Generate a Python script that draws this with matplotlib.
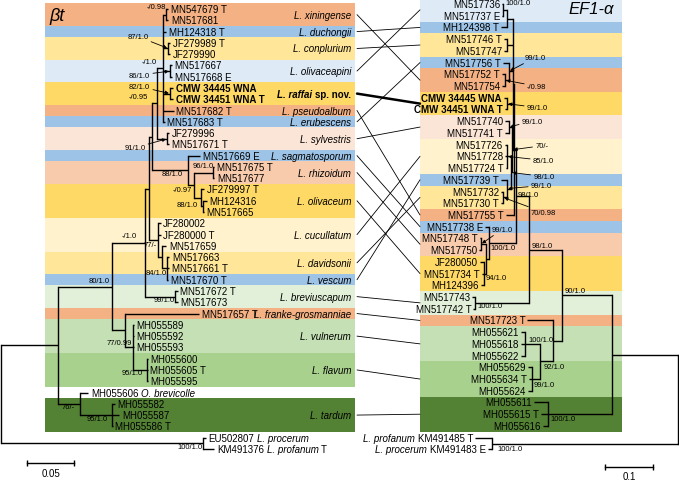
import matplotlib.pyplot as plt
from matplotlib.patches import ConnectionPatch
from matplotlib.transforms import blended_transform_factory, offset_copy

plt.rcParams['font.family'] = ['Liberation Sans', 'DejaVu Sans']

# ---------------- beta-tubulin tree (left), tips from top to bottom ----------------
# *...* marks italic parts of a label
bt_tips = ["MN547679 T", "MN517681", "MH124318 T", "JF279989 T", "JF279990",
           "MN517667", "MN517668 E", "CMW 34445 WNA", "CMW 34451 WNA T", "MN517682 T",
           "MN517683 T", "JF279996", "MN517671 T", "MN517669 E", "MN517675 T",
           "MN517677", "JF279997 T", "MH124316", "MN517665", "JF280002",
           "JF280000 T", "MN517659", "MN517663", "MN517661 T", "MN517670 T",
           "MN517672 T", "MN517673", "MN517657 T", "MH055589", "MH055592",
           "MH055593", "MH055600", "MH055605 T", "MH055595", "MH055606 *O. brevicolle*",
           "MH055582", "MH055587", "MH055586 T", "EU502807 *L. procerum*",
           "KM491376 *L. profanum* T"]
bt_tip_parent = ["xin", "xin", "clA", "conp", "conp", "olp", "olp", "raf", "raf", "clA",
                 "clA", "syl", "syl", "clR", "rhi", "rhi", "oli", "oli2", "oli2", "cd",
                 "cd", "cd2", "dav", "dav", "dav", "bre", "bre", "v", "vf", "vf",
                 "vf", "fla", "fla", "fla", "t", "tar", "tar", "tar", "og", "og"]
bt_tip_dist = [0.178, 0.178, 0.176, 0.180, 0.180, 0.182, 0.182, 0.183, 0.183, 0.184,
               0.174, 0.179, 0.179, 0.212, 0.227, 0.227, 0.216, 0.219, 0.216, 0.170,
               0.170, 0.176, 0.179, 0.179, 0.178, 0.188, 0.188, 0.211, 0.141, 0.141,
               0.141, 0.156, 0.156, 0.156, 0.093, 0.121, 0.126, 0.119, 0.218, 0.227]
# internal nodes: (name, parent, distance from root)
bt_nodes = [("root", None, 0.0), ("n1", "root", 0.061), ("n2", "n1", 0.118),
            ("n3", "n2", 0.153), ("n4", "n3", 0.157), ("n5", "n4", 0.161),
            ("n6", "n5", 0.166), ("clA", "n6", 0.172), ("xin", "clA", 0.176),
            ("conp", "clA", 0.178), ("olp", "clA", 0.180), ("raf", "clA", 0.180),
            ("syl", "n6", 0.177), ("clR", "n5", 0.199), ("ro", "clR", 0.205),
            ("rhi", "ro", 0.226), ("oli", "ro", 0.213), ("oli2", "oli", 0.215),
            ("cd", "n4", 0.167), ("cd2", "cd", 0.171), ("dav", "cd2", 0.177),
            ("bre", "n3", 0.185), ("v", "n2", 0.132), ("vf", "v", 0.140),
            ("fla", "vf", 0.155), ("t", "n1", 0.084), ("tar", "t", 0.118),
            ("og", "root", 0.215)]
bt_support = {"xin": "-/0.98", "conp": "87/1.0", "clA": "-/1.0", "olp": "86/1.0",
              "raf": "82/1.0", "n6": "-/0.95", "syl": "91/1.0", "rhi": "96/1.0",
              "clR": "88/1.0", "oli": "-/0.97", "oli2": "88/1.0", "n3": "-/1.0",
              "cd": "77/-", "dav": "84/1.0", "n2": "80/1.0", "bre": "99/1.0",
              "vf": "77/0.99", "fla": "95/1.0", "t": "76/-", "tar": "95/1.0",
              "og": "100/1.0"}
bt_species = ["L. xiningense", "L. duchongii", "L. conplurium", "L. olivaceapini",
              "L. raffai", "L. pseudoalbum", "L. erubescens", "L. sylvestris",
              "L. sagmatosporum", "L. rhizoidum", "L. olivaceum", "L. cucullatum",
              "L. davidsonii", "L. vescum", "L. breviuscapum", "L. franke-grosmanniae",
              "L. vulnerum", "L. flavum", "L. tardum"]
bt_first = [0, 2, 3, 5, 7, 9, 10, 11, 13, 14, 16, 19, 22, 24, 25, 27, 28, 31, 35]
bt_last = [1, 2, 4, 6, 8, 9, 10, 12, 13, 15, 18, 21, 23, 24, 26, 27, 30, 33, 37]
new_species = "L. raffai"

# ---------------- EF1-alpha tree (right) ----------------
ef_tips = ["MN517736", "MN517737 E", "MH124398 T", "MN517746 T", "MN517747",
           "MN517756 T", "MN517752 T", "MN517754", "CMW 34445 WNA", "CMW 34451 WNA T",
           "MN517740", "MN517741 T", "MN517726", "MN517728", "MN517724 T",
           "MN517739 T", "MN517732", "MN517730 T", "MN517755 T", "MN517738 E",
           "MN517748 T", "MN517750", "JF280050", "MN517734 T", "MH124396",
           "MN517743", "MN517742 T", "MN517723 T", "MH055621", "MH055618",
           "MH055622", "MH055629", "MH055634 T", "MH055624", "MH055611",
           "MH055615 T", "MH055616", "*L. profanum* KM491485 T", "*L. procerum* KM491483 E"]
ef_tip_parent = ["x1", "x1", "x2", "rconp", "rconp", "n99", "rxin", "rxin", "rraf", "rraf",
                 "rsyl", "rsyl", "c1", "c1", "c1", "d2", "d1", "d1", "b1", "rro",
                 "rrhi", "rrhi", "rol", "rol", "rol", "rbre", "rbre", "rf", "rvul", "rvul",
                 "rvul", "rfla", "rfla", "rfla", "rtar", "rtar", "rtar", "rog", "rog"]
ef_tip_dist = [0.365, 0.365, 0.367, 0.361, 0.361, 0.363, 0.365, 0.365, 0.361, 0.359,
               0.359, 0.359, 0.359, 0.359, 0.357, 0.367, 0.367, 0.367, 0.357, 0.400,
               0.411, 0.413, 0.411, 0.407, 0.409, 0.427, 0.425, 0.313, 0.326, 0.326,
               0.326, 0.311, 0.309, 0.311, 0.299, 0.284, 0.280, 0.421, 0.394]
ef_nodes = [("rroot", None, 0.0), ("r612", "rroot", 0.137), ("rog", "rroot", 0.386),
            ("r562", "r612", 0.241), ("rtar", "r612", 0.270), ("r529", "r562", 0.309),
            ("rf", "r562", 0.259), ("rvf", "rf", 0.286), ("rvul", "rvf", 0.317),
            ("rfla", "rvf", 0.303), ("rbre", "r529", 0.421), ("b0", "r529", 0.336),
            ("b1", "b0", 0.340), ("rro", "b0", 0.392), ("b2", "b1", 0.342),
            ("b2a", "b2", 0.344), ("rsyl", "b2a", 0.351), ("b3", "b2a", 0.346),
            ("c1", "b3", 0.355), ("d2", "b3", 0.355), ("d1", "d2", 0.363),
            ("rraf", "b2", 0.355), ("n99", "b2", 0.351), ("rxin", "n99", 0.359),
            ("rconp", "b2", 0.355), ("x2", "b2", 0.355), ("x1", "x2", 0.363),
            ("rro2", "rro", 0.398), ("rrhi", "rro2", 0.409), ("rol", "rro2", 0.402)]
ef_support = {"x1": "100/1.0", "n99": "99/1.0", "rxin": "-/0.98", "rraf": "99/1.0",
              "rsyl": "99/1.0", "b2a": "70/-", "c1": "85/1.0", "b3": "98/1.0",
              "d2": "99/1.0", "d1": "70/0.98", "b0": "98/1.0", "rrhi": "99/1.0",
              "rro": "100/1.0", "rol": "94/1.0", "r529": "98/1.0", "rbre": "100/1.0",
              "r562": "90/1.0", "rvul": "100/1.0", "rvf": "92/1.0", "rfla": "99/1.0",
              "rtar": "100/1.0", "rog": "100/1.0"}
ef_species = ["L. olivaceapini", "L. duchongii", "L. conplurium", "L. erubescens",
              "L. xiningense", "L. raffai", "L. sylvestris", "L. cucullatum", "L. vescum",
              "L. davidsonii", "L. pseudoalbum", "L. sagmatosporum", "L. rhizoidum",
              "L. olivaceum", "L. breviuscapum", "L. franke-grosmanniae", "L. vulnerum",
              "L. flavum", "L. tardum"]
ef_first = [0, 2, 3, 5, 6, 8, 10, 12, 15, 16, 18, 19, 20, 22, 25, 27, 28, 31, 34]
ef_last = [1, 2, 4, 5, 7, 9, 11, 14, 15, 17, 18, 19, 21, 24, 26, 27, 30, 33, 36]

# ---------------- styles / layout ----------------
species_color = {
    "L. xiningense": "#F4B183", "L. duchongii": "#9DC3E6", "L. conplurium": "#FFE699",
    "L. olivaceapini": "#DEEBF7", "L. raffai": "#FFD966", "L. pseudoalbum": "#F4B183",
    "L. erubescens": "#9DC3E6", "L. sylvestris": "#FBE5D6", "L. sagmatosporum": "#9DC3E6",
    "L. rhizoidum": "#F8CBAD", "L. olivaceum": "#FFD966", "L. cucullatum": "#FFF2CC",
    "L. davidsonii": "#FFE699", "L. vescum": "#9DC3E6", "L. breviuscapum": "#E2F0D9",
    "L. franke-grosmanniae": "#F4B183", "L. vulnerum": "#C5E0B4", "L. flavum": "#A9D18E",
    "L. tardum": "#548235"}

# offsets (pixels) of support labels from their node: dx, dy (down), arrow
bt_label_pos = {"xin": (0, -8, False), "conp": (-20, -12, True), "clA": (-6, -7, False),
                "olp": (-20, 4, True), "raf": (-20, -7, True), "n6": (-9, -7, False),
                "syl": (-22, 9, True), "rhi": (0, -7, False), "clR": (-5, 3, False),
                "oli": (-9, -8, False), "oli2": (-5, -2, False), "n3": (-8, -7, False),
                "cd": (-1, 4, False), "dav": (-1, 4, False), "n2": (-2, -6, False),
                "bre": (0, 3, False), "vf": (-1, -5, False), "fla": (-4, 3, False),
                "t": (-5, 3, False), "tar": (-4, 3, False), "og": (-1, 3, False)}
ef_label_pos = {"x1": (2, -7, False), "n99": (16, -14, True), "rxin": (22, 6, True),
                "rraf": (20, 4, True), "rsyl": (13, -6, True), "b2a": (23, -4, True),
                "c1": (26, 4, True), "b3": (22, 4, True), "d2": (24, -3, True),
                "d1": (28, 15, True), "b0": (2, -2, False), "rrhi": (11, -15, True),
                "rro": (1, 5, False), "rol": (1, 4, False), "r529": (3, -4, False),
                "rbre": (2, 3, False), "r562": (3, -5, False), "rvul": (3, -4, False),
                "rvf": (3, 5, False), "rfla": (2, 5, False), "rtar": (3, 4, False),
                "rog": (6, 5, False)}

W, H = 679, 481
TIP_FS = 7
SUP_FS = 5.5
LW = 1.0


def layout(tip_parent, nodes):
    kids = {name: [] for name, p, d in nodes}
    for name, p, d in nodes:
        if p is not None:
            kids[p].append(name)
    for i, p in enumerate(tip_parent):
        kids[p].append(i)
    ypos = {}

    def y_of(k):
        if isinstance(k, int):
            return k
        if k not in ypos:
            ys = [y_of(c) for c in kids[k]]
            ypos[k] = (min(ys) + max(ys)) / 2
        return ypos[k]

    for name, p, d in nodes:
        y_of(name)
    return kids, ypos


def draw_tree(ax, tip_parent, tip_dist, nodes):
    kids, ypos = layout(tip_parent, nodes)
    dist = {name: d for name, p, d in nodes}
    for name, p, d in nodes:
        cy = [c if isinstance(c, int) else ypos[c] for c in kids[name]]
        ax.plot([d, d], [min(cy), max(cy)], color='k', lw=LW, solid_capstyle='projecting')
        for c in kids[name]:
            if isinstance(c, int):
                ax.plot([d, tip_dist[c]], [c, c], color='k', lw=LW, solid_capstyle='butt')
            else:
                ax.plot([d, dist[c]], [ypos[c], ypos[c]], color='k', lw=LW,
                        solid_capstyle='butt')
    return dist, ypos


def rich_text(ax, x, y, label, ha, transform, **kw):
    segs = [(s.strip(), i % 2 == 1) for i, s in enumerate(label.split('*')) if s.strip()]
    if ha == 'right':
        segs = segs[::-1]
    prev = None
    for s, it in segs:
        style = 'italic' if it else 'normal'
        if prev is None:
            prev = ax.text(x, y, s, ha=ha, va='center', transform=transform,
                           style=style, **kw)
        else:
            gap = 2.7 if ha == 'left' else -2.7
            prev = ax.annotate(s, xy=(1 if ha == 'left' else 0, 0), xycoords=prev,
                               xytext=(gap, 0), textcoords='offset pixels',
                               ha=ha, va='bottom', style=style, **kw)
    return prev


def support_labels(ax, support, pos, dist, ypos, ha):
    for node, txt in support.items():
        dx, dy, arrow = pos[node]
        props = None
        if arrow:
            props = dict(arrowstyle='-|>', lw=0.6, color='k', shrinkA=0, shrinkB=1,
                         mutation_scale=5)
        ax.annotate(txt, xy=(dist[node], ypos[node]), xytext=(dx, -dy),
                    textcoords='offset pixels', ha=ha, va='center',
                    fontsize=SUP_FS, arrowprops=props)


fig = plt.figure(figsize=(W / 100, H / 100), dpi=100)

# left axes: x = substitutions from root (root at px 1, 940 px per unit); y = tip row
ax_l = fig.add_axes([0, 0, 1, 1])
ax_l.set_xlim(-1 / 940, (W - 1) / 940)
ax_l.set_ylim((H - 10) / 11.28, -10 / 11.28)
ax_l.axis('off')

# right axes: root at px 678, growing leftwards (482 px per unit)
ax_r = fig.add_axes([0, 0, 1, 1])
ax_r.set_xlim(678 / 482, (678 - W) / 482)
ax_r.set_ylim((H - 5) / 11.72, -5 / 11.72)
ax_r.axis('off')
ax_r.patch.set_visible(False)

tl = blended_transform_factory(ax_l.transAxes, ax_l.transData)
tr = blended_transform_factory(ax_r.transAxes, ax_r.transData)

# colour bands
for sp, a, b in zip(bt_species, bt_first, bt_last):
    ax_l.axhspan(a - 0.5, b + 0.5, xmin=45 / W, xmax=355 / W, color=species_color[sp],
                 lw=0, zorder=0)
for sp, a, b in zip(ef_species, ef_first, ef_last):
    ax_r.axhspan(a - 0.5, b + 0.5, xmin=420 / W, xmax=622 / W, color=species_color[sp],
                 lw=0, zorder=0)

# trees
bt_dist, bt_y = draw_tree(ax_l, bt_tip_parent, bt_tip_dist, bt_nodes)
ef_dist, ef_y = draw_tree(ax_r, ef_tip_parent, ef_tip_dist, ef_nodes)

# tip labels
lt = offset_copy(ax_l.transData, fig=fig, x=2.5, y=0, units='dots')
for i, lab in enumerate(bt_tips):
    w = 'bold' if lab.startswith('CMW') else 'normal'
    rich_text(ax_l, bt_tip_dist[i], i, lab, 'left', lt, fontsize=TIP_FS, fontweight=w)
rt = offset_copy(ax_r.transData, fig=fig, x=-2, y=0, units='dots')
for i, lab in enumerate(ef_tips):
    w = 'bold' if lab.startswith('CMW') else 'normal'
    rich_text(ax_r, ef_tip_dist[i], i, lab, 'right', rt, fontsize=TIP_FS, fontweight=w)

support_labels(ax_l, bt_support, bt_label_pos, bt_dist, bt_y, 'right')
support_labels(ax_r, ef_support, ef_label_pos, ef_dist, ef_y, 'left')

# species names and links between the two trees
for sp, a, b in zip(bt_species, bt_first, bt_last):
    yc = (a + b) / 2
    if sp == new_species:
        rich_text(ax_l, 351 / W, yc, f"*{sp}* sp. nov.", 'right', tl,
                  fontsize=TIP_FS, fontweight='bold')
    else:
        rich_text(ax_l, 351 / W, yc, f"*{sp}*", 'right', tl, fontsize=TIP_FS)
    j = ef_species.index(sp)
    yr = (ef_first[j] + ef_last[j]) / 2
    con = ConnectionPatch(xyA=(357 / W, yc), coordsA=tl, xyB=(420 / W, yr), coordsB=tr,
                          color='k', lw=1.8 if sp == new_species else 0.6)
    fig.add_artist(con)

# gene names
ax_l.text(49 / W, 0.6, "βt", transform=tl, fontsize=13, style='italic', va='center')
ax_r.text(614 / W, 0.4, "EF1-α", transform=tr, fontsize=12, style='italic', va='center',
          ha='right')

# scale bars
x0 = 26 / 940
ax_l.plot([x0, x0 + 0.05], [40.25, 40.25], color='k', lw=LW, marker='|', ms=4, mew=LW)
ax_l.text(x0 + 0.025, 41.1, "0.05", ha='center', va='center', fontsize=TIP_FS)
x1 = 25 / 482
ax_r.plot([x1, x1 + 0.1], [39.5, 39.5], color='k', lw=LW, marker='|', ms=4, mew=LW)
ax_r.text(x1 + 0.05, 40.3, "0.1", ha='center', va='center', fontsize=TIP_FS)

fig.savefig("out.png", dpi=100)
